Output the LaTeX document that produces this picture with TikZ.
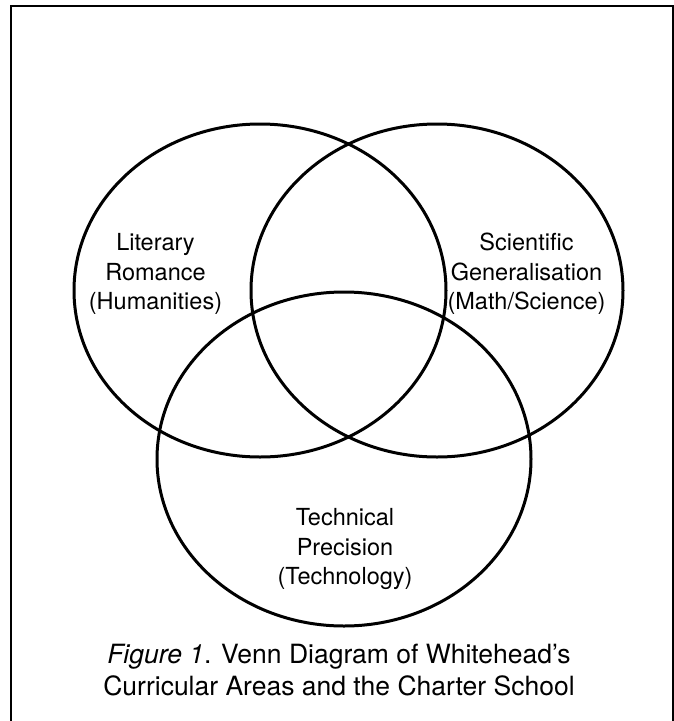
\documentclass[tikz,border=0pt]{standalone}
\usepackage{fontspec}
\setmainfont{TeX Gyre Heros}
\begin{document}
\begin{tikzpicture}[x=1pt,y=1pt,
  venn/.style={line width=3pt},
  frameline/.style={line width=2.2pt},
  lbl/.style={align=center,font=\fontsize{23.5}{29.5}\selectfont,inner sep=0pt},
  captext/.style={align=center,font=\fontsize{26.5}{32}\selectfont,inner sep=0pt}]
\useasboundingbox (0,0) rectangle (674,-721);
% frame (open at the bottom)
\draw[frameline] (11,-721) -- (11,-6) -- (673,-6) -- (673,-721);
% circles
\draw[venn] (260,-290.5) ellipse [x radius=186, y radius=166.5];
\draw[venn] (437,-290.5) ellipse [x radius=186, y radius=166.5];
\draw[venn] (344,-459) ellipse [x radius=187, y radius=167];
% labels
\node[lbl] (lit) at (155.5,-274) {Literary\\Romance\\(Humanities)};
\node[lbl] (sci) at (526.5,-274) {Scientific\\Generalisation\\(Math/Science)};
\node[lbl] (tec) at (345,-549) {Technical\\Precision\\(Technology)};
% caption
\node[captext] (fig) at (339,-670) {\textit{Figure 1}. Venn Diagram of Whitehead’s\\Curricular Areas and the Charter School};
\end{tikzpicture}
\end{document}
